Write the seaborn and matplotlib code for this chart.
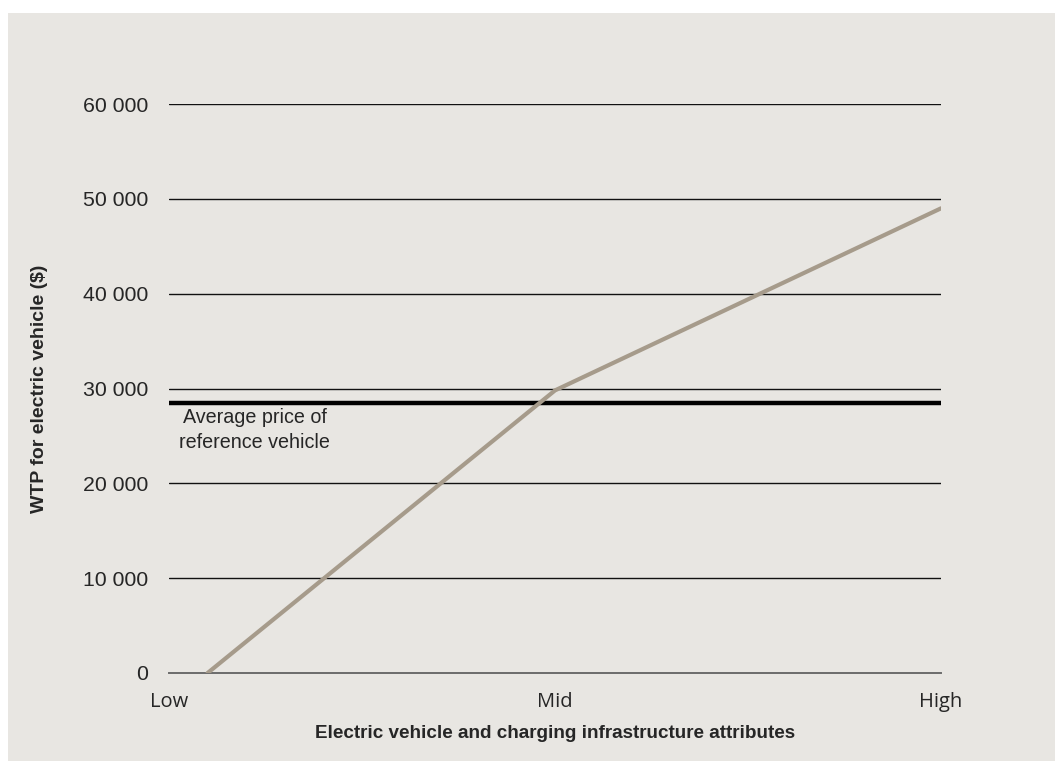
import matplotlib
matplotlib.use("Agg")
import matplotlib.pyplot as plt
import seaborn as sns
import pandas as pd
from matplotlib.patches import Rectangle

# Willingness to pay along the attribute scale (0 = Low, 1 = Mid, 2 = High)
attribute_level = [0.1, 1.0, 2.0]
wtp_values = [0, 29800, 49000]
reference_price = 28500
x_tick_labels = ["Low", "Mid", "High"]
y_ticks = [0, 10000, 20000, 30000, 40000, 50000, 60000]

sns.set_theme(style="white")
plt.rcParams["font.family"] = ["Liberation Sans", "DejaVu Sans"]

bg = "#E8E6E2"
line_color = "#A69B8B"

fig = plt.figure(figsize=(10.55, 7.61), dpi=100)
fig.patch.set_facecolor("white")
fig.patches.append(Rectangle((8 / 1055, 0), 1 - 8 / 1055, 1 - 13 / 761,
                             transform=fig.transFigure, facecolor=bg,
                             edgecolor="none", zorder=-10))

ax = fig.add_axes([169 / 1055, 1 - 673 / 761, (941 - 169) / 1055, (673 - 104) / 761])
ax.set_facecolor("none")

df = pd.DataFrame({"level": attribute_level, "wtp": wtp_values})

# gridlines
for v in y_ticks[1:]:
    ax.axhline(v, color="#111111", lw=1.0, zorder=1)

ax.axhline(reference_price, color="black", lw=3.2, zorder=2)

sns.lineplot(data=df, x="level", y="wtp", ax=ax, color=line_color, lw=3.0,
             zorder=3, solid_capstyle="round")

ax.set_xlim(0, 2)
ax.set_ylim(0, 60000)
ax.set_xticks([0, 1, 2])
ax.set_xticklabels(x_tick_labels, fontsize=14.5, family=["Open Sans", "DejaVu Sans"])
ax.set_yticks(y_ticks)
ax.set_yticklabels([f"{v:,}".replace(",", " ") for v in y_ticks], fontsize=15.3)

for side in ["top", "right", "left"]:
    ax.spines[side].set_visible(False)
ax.spines["bottom"].set_color("#6b6b6b")
ax.spines["bottom"].set_linewidth(1.4)
ax.spines["bottom"].set_zorder(2.5)

ax.tick_params(axis="x", direction="out", length=5, width=1.4, color="#6b6b6b", pad=9)
ax.tick_params(axis="y", length=0, pad=15)

ax.set_xlabel("Electric vehicle and charging infrastructure attributes",
              fontsize=13.6, fontweight="bold", labelpad=9)
ax.set_ylabel("WTP for electric vehicle ($)", fontsize=14, fontweight="bold", labelpad=25)

ax.text(0.111, 0.465, "Average price of\nreference vehicle",
        transform=ax.transAxes, ha="center", va="top",
        fontsize=14.2, linespacing=1.38)

fig.savefig("out.png", dpi=100)
